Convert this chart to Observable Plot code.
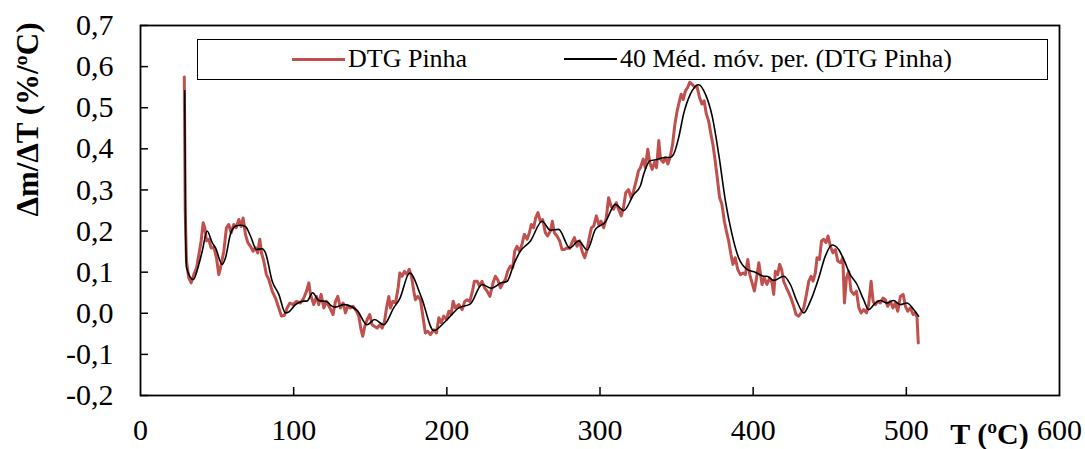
<!DOCTYPE html>
<html>
<head>
<meta charset="utf-8">
<script src="https://cdn.jsdelivr.net/npm/d3@7"></script>
<script src="https://cdn.jsdelivr.net/npm/@observablehq/plot@0.6"></script>
<style>
  html, body { margin: 0; padding: 0; background: #fff; }
  #wrap { position: relative; width: 1085px; height: 449px; }
  #legend { position: absolute; left: 197px; top: 39px; width: 851px; height: 41px; box-sizing: border-box; border: 1.5px solid #000; background: #fff; }
  #legend .sw { position: absolute; }
  #legend .lt { position: absolute; top: 0; line-height: 38px; color: #000; white-space: nowrap; }
</style>
</head>
<body>
<div id="wrap"></div>
<script>
// ---- data ----
const seriesNames = ["DTG Pinha", "40 Méd. móv. per. (DTG Pinha)"];
const seriesColors = ["#C0504D", "#000000"];
const xTitle = "T (ºC)";
const yTitle = "Δm/ΔT (%/ºC)";
const xTickValues = [0, 100, 200, 300, 400, 500, 600];
const yTickValues = [-0.2, -0.1, 0.0, 0.1, 0.2, 0.3, 0.4, 0.5, 0.6, 0.7];

// DTG Pinha (raw)
const dtgT = [28.6,29.2,30,31.5,33.1,34.8,36.6,38.1,39.6,40.9,42,43.1,44.5,46.1,47.9,49.6,51.1,52.2,54.4,56.1,57.6,59.2,60.9,62.4,64.2,65.7,67,68.5,70.1,71.8,73.5,75,76.5,77.9,79,80.5,82.2,83.8,86,88.1,90.3,92,94,95.7,97.5,99.6,101.8,104.4,106.6,108.4,109.9,111,113.1,114.9,116.4,117.9,119.7,121.4,123.6,
125.7,127.3,128.8,130.5,132.3,133.8,135.3,137,138.8,141,142.5,144,145.1,146.4,148,149.7,151.2,152.8,154.5,156.3,157.8,159.3,160.6,162.1,163.2,164.7,166.5,168.2,169.3,170.8,172.3,174.1,175.4,176.9,178.4,179.5,181,182.8,184.5,186,187.6,189.3,191.5,193.2,194.8,196.3,198,199.8,201.3,202.8,204.1,205.6,207.8,210,211.7,213.2,215,216.5,218,219.8,221.3,223,224.6,226.3,228.1,
230.2,231.7,233.2,235,236.7,238.2,239.7,241.5,243,244.3,245.8,247.4,249.1,250.6,252.4,253.9,255.2,256.7,258,259.5,261,262.6,264.3,265.8,267.6,268.9,270.2,271.9,273.7,275.2,276.7,278.5,280.2,281.7,283.3,285,286.7,288.3,290,291.6,293,294.4,295.9,297.6,299.2,300.7,302.4,304.1,305.6,307.2,308.9,310.6,312.1,313.9,315.3,316.8,318.6,320.3,321.9,323.6,325.1,
326.4,328.2,329.6,331.2,332.5,334,335.6,336.9,338.4,339.5,341.3,342.8,344.3,346,347.4,348.9,350.4,351.9,353,354.3,355.8,357.3,358.6,360.2,361.7,363.2,365,366.5,368,369.4,370.9,372.4,373.7,375.2,376.8,378.1,379.6,381.2,382.5,384,385.5,386.8,388.3,389.9,391.6,393.4,394.9,396.5,397.8,399.3,400.8,402.2,403.7,
405.8,407.3,409,410.8,412.3,413.4,414.5,416,417.3,418.6,419.9,421.7,423.2,424.7,426.5,428,429.7,431.3,433,434.8,436.3,437.8,439.1,440.6,441.7,443.3,444.6,446.1,447.6,448.9,450.4,452,453.7,455.2,457,458.5,459.6,460.9,462.4,463.9,465.7,467.4,469,470.5,472.2,474,475.4,477,478.3,479.8,481.3,483,484.8,486.3,487.8,489.6,491.3,492.8,494.4,496.1,497.9,499.4,500.9,502.6,504.4,505.9,507,507.8];
const dtgV = [0.575,0.25,0.127,0.086,0.074,0.094,0.11,0.143,0.176,0.22,0.208,0.176,0.18,0.159,0.16,0.135,0.094,0.11,0.151,0.208,0.216,0.196,0.216,0.208,0.228,0.211,0.232,0.192,0.172,0.163,0.151,0.16,0.147,0.18,0.147,0.127,0.094,0.082,0.054,0.037,0.013,-0.007,-0.005,0.013,0.025,0.021,0.029,0.025,0.037,0.054,0.074,0.046,0.021,0.041,0.021,0.046,0.013,0.029,0.013,
-0.003,0.029,0.041,0.013,0.025,0.001,0.017,0.013,0.017,0.005,-0.007,-0.04,-0.056,-0.032,-0.015,-0.003,-0.028,-0.032,-0.036,-0.028,-0.036,-0.02,0.013,0.041,0.013,0.029,0.025,0.062,0.098,0.09,0.102,0.094,0.107,0.09,0.054,0.033,0.041,0.033,-0.011,-0.048,-0.044,-0.052,-0.04,-0.048,-0.011,-0.023,-0.007,-0.015,0.005,-0.003,0.029,0.013,0.021,0.009,0.029,0.033,0.029,0.05,0.078,0.078,0.066,0.078,0.062,0.054,0.041,
0.074,0.09,0.082,0.062,0.074,0.082,0.102,0.115,0.111,0.151,0.163,0.151,0.168,0.192,0.18,0.196,0.216,0.208,0.232,0.245,0.224,0.228,0.196,0.188,0.2,0.224,0.196,0.188,0.176,0.155,0.155,0.159,0.158,0.172,0.184,0.163,0.176,0.151,0.135,0.155,0.184,0.208,0.212,0.237,0.216,0.224,0.208,0.232,0.281,0.261,0.253,0.269,0.253,0.237,0.257,0.293,0.301,0.281,0.297,0.322,0.346,
0.354,0.375,0.354,0.399,0.367,0.35,0.367,0.354,0.42,0.375,0.367,0.379,0.363,0.383,0.411,0.46,0.493,0.517,0.533,0.52,0.541,0.55,0.562,0.557,0.55,0.553,0.525,0.509,0.517,0.485,0.468,0.436,0.411,0.371,0.322,0.281,0.265,0.224,0.2,0.176,0.143,0.119,0.135,0.107,0.094,0.098,0.094,0.131,0.094,0.074,0.054,0.086,0.123,
0.07,0.086,0.07,0.086,0.074,0.046,0.102,0.094,0.119,0.106,0.078,0.062,0.05,0.037,0.017,-0.003,-0.007,0.001,0.013,0.046,0.078,0.09,0.078,0.098,0.135,0.131,0.176,0.18,0.172,0.188,0.163,0.147,0.155,0.127,0.123,0.135,0.025,0.086,0.102,0.054,0.046,0.054,0.013,0.001,0.009,0.001,0.021,0.078,0.029,0.021,0.029,0.025,0.037,0.033,0.017,0.029,0.013,0.025,0.005,0.041,0.046,0.017,0.005,0.013,-0.003,0.001,-0.011,-0.072];

// 40-period moving average (as drawn)
const maT = [28.9,29.4,30.1,34.4,38.1,40.3,43.5,46.8,49,53.3,55.5,58.7,62,65.3,68.5,71.8,75.7,79.4,81.6,86,90.3,94.6,96.8,101.2,105.5,108.8,112.4,116.4,121.8,124,127.3,132.7,141.4,148,152.8,158.8,165.3,169.2,175.7,183.3,191.5,199,207.8,215.4,223,229,235.5,239.4,243.7,248,254.6,262.2,267.6,273,280.2,286.1,291.6,297,303.5,310,315.5,322,326.4,328.5,332.7,337.3,342.7,346,348.1,351.4,354.6,359,364.4,368.8,373.2,377.5,381.9,386.2,390.5,396,401.4,406.9,409,413.4,420,424.3,428.6,433,437.3,442.8,447.1,451.5,455.8,459.1,463.4,467.8,472.1,475.4,479.8,483,487.4,491.7,496.1,500.4,504.8,508];
const maV = [0.541,0.208,0.11,0.082,0.119,0.151,0.2,0.172,0.159,0.119,0.135,0.192,0.212,0.214,0.211,0.188,0.155,0.157,0.147,0.078,0.046,0.001,0.003,0.021,0.029,0.03,0.05,0.031,0.028,0.02,0.015,0.021,0.007,-0.028,-0.015,-0.028,0.013,0.035,0.098,0.04,-0.042,-0.02,0.013,0.023,0.07,0.061,0.074,0.078,0.119,0.151,0.176,0.224,0.202,0.204,0.159,0.176,0.154,0.204,0.222,0.265,0.25,0.289,0.31,0.338,0.371,0.374,0.379,0.379,0.387,0.428,0.485,0.533,0.556,0.533,0.48,0.387,0.273,0.192,0.135,0.107,0.1,0.09,0.09,0.08,0.09,0.07,0.029,0.001,0.029,0.086,0.139,0.166,0.155,0.131,0.094,0.07,0.033,0.009,0.025,0.031,0.025,0.031,0.021,0.025,0.009,-0.007];

const dtg = dtgT.map((t, i) => ({T: t, v: dtgV[i]}));
const ma = maT.map((t, i) => ({T: t, v: maV[i]}));
const fmtY = d => d.toFixed(1).replace(".", ",").replace("-0,0", "0,0");

// pick an installed serif font (Times-like preferred) and scale sizes to Times metrics
const ctx = document.createElement("canvas").getContext("2d");
const sample = "40 Méd. móv. per. (DTG Pinha) 0,7";
function widthOf(font) { ctx.font = font; return ctx.measureText(sample).width; }
function installed(f) {
  return widthOf(`100px "${f}", monospace`) !== widthOf("100px monospace") ||
         widthOf(`100px "${f}", sans-serif`) !== widthOf("100px sans-serif");
}
const candidates = ["Liberation Serif", "Tinos", "Times New Roman", "Nimbus Roman", "Noto Serif", "DejaVu Serif"];
const chosen = candidates.find(installed) || "serif";
const fontFamily = `"${chosen}", serif`;
// Times width of sample at 100px ≈ 1288.7 (text) + 25 (space) + 125 ("0,7")
const timesWidth = 1438.7;
const k = Math.min(1, timesWidth / widthOf(`100px ${fontFamily}`));
const fs = s => Math.round(s * k * 10) / 10;

const chart = Plot.plot({
  width: 1085,
  height: 449,
  marginLeft: 140,
  marginRight: 26,
  marginTop: 25,
  marginBottom: 54,
  x: {domain: [0, 600]},
  y: {domain: [-0.2, 0.7]},
  style: {fontFamily: fontFamily, fontSize: fs(30) + "px", color: "#000", background: "#fff", overflow: "visible"},
  marks: [
    Plot.axisX({ticks: xTickValues, tickSize: 0, tickPadding: 23, tickFormat: d => String(d), label: null}),
    Plot.axisX({ticks: xTickValues.slice(1, -1), tickSize: 8, dy: -8, text: null, label: null, strokeWidth: 1.5}),
    Plot.axisY({ticks: yTickValues, tickSize: 0, tickPadding: 27, tickFormat: fmtY, label: null}),
    Plot.axisY({ticks: yTickValues, tickSize: 8, dx: 8, text: null, label: null, strokeWidth: 1.5}),
    Plot.line(dtg, {x: "T", y: "v", stroke: seriesColors[0], strokeWidth: 3}),
    Plot.line(ma, {x: "T", y: "v", stroke: seriesColors[1], strokeWidth: 1.6, curve: "monotone-x"}),
    Plot.frame({stroke: "#000", strokeWidth: 1.8}),
    Plot.text([yTitle], {frameAnchor: "top-left", text: d => d, rotate: -90, dx: -112, dy: 94, textAnchor: "middle", lineAnchor: "middle", fontWeight: "bold", fontSize: fs(31)}),
    Plot.text([xTitle], {frameAnchor: "bottom-right", text: d => d, dx: -70, dy: 39, textAnchor: "middle", lineAnchor: "middle", fontWeight: "bold", fontSize: fs(30)})
  ]
});

const wrap = document.getElementById("wrap");
wrap.appendChild(chart);

// legend inside the plot area
const legend = document.createElement("div");
legend.id = "legend";
legend.style.fontFamily = fontFamily;
const items = [
  {swLeft: 94, txtLeft: 150, h: 3},
  {swLeft: 366, txtLeft: 422, h: 1.6}
];
items.forEach((it, i) => {
  const sw = document.createElement("div");
  sw.className = "sw";
  sw.style.left = it.swLeft + "px";
  sw.style.width = "53px";
  sw.style.height = it.h + "px";
  sw.style.top = (19 - it.h / 2) + "px";
  sw.style.background = seriesColors[i];
  legend.appendChild(sw);
  const t = document.createElement("div");
  t.className = "lt";
  t.style.left = it.txtLeft + "px";
  t.style.fontSize = fs(26) + "px";
  t.textContent = seriesNames[i];
  legend.appendChild(t);
});
wrap.appendChild(legend);
</script>
</body>
</html>
